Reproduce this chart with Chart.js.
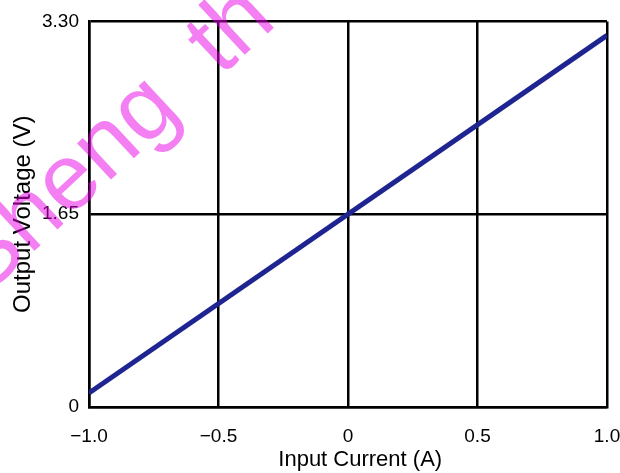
<!DOCTYPE html>
<html>
<head>
<meta charset="utf-8">
<script src="https://cdn.jsdelivr.net/npm/chart.js@4.4.1/dist/chart.umd.min.js"></script>
<style>
    html, body { margin: 0; padding: 0; background: #fff; }
    #wrap { width: 620px; height: 473px; position: relative; }
</style>
</head>
<body>
<div id="wrap"><canvas id="chart"></canvas></div>
<script>
// transfer curve: output voltage vs input current
const currents = [-1.0, 1.0];
const voltages = [0.12, 3.18];
const xTicks = [-1.0, -0.5, 0, 0.5, 1.0];
const xTickLabels = ['\u22121.0', '\u22120.5', '0', '0.5', '1.0'];
const yTicks = [0, 1.65, 3.3];
const yTickLabels = ['0', '1.65', '3.30'];

const FONT = 'Liberation Sans, Arial, sans-serif';

// pink watermark across the upper left
const watermark = {
    id: 'watermark',
    afterDraw(chart) {
        const ctx = chart.ctx;
        ctx.save();
        ctx.translate(-16, 298);
        ctx.rotate(-43 * Math.PI / 180);
        ctx.font = '94px ' + FONT;
        ctx.fillStyle = 'rgba(232, 0, 232, 0.5)';
        ctx.textBaseline = 'alphabetic';
        ctx.fillText('Sheng  th', 0, 0);
        ctx.restore();
    }
};

const ctx = document.getElementById('chart').getContext('2d');
const chart = new Chart(ctx, {
    type: 'scatter',
    data: {
        datasets: [{
            data: currents.map((c, i) => ({ x: c, y: voltages[i] })),
            showLine: true,
            borderColor: '#1f2590',
            borderWidth: 5,
            pointRadius: 0,
            fill: false
        }]
    },
    options: {
        responsive: true,
        maintainAspectRatio: false,
        animation: false,
        layout: {
            padding: { left: 0, top: 19, right: 13, bottom: 0 }
        },
        plugins: {
            legend: { display: false },
            tooltip: { enabled: false }
        },
        scales: {
            x: {
                type: 'linear',
                min: -1,
                max: 1,
                afterBuildTicks: function(scale) {
                    scale.ticks = xTicks.map(v => ({ value: v }));
                },
                afterFit: function(scale) {
                    scale.height = 66;
                    scale.paddingLeft = 0;
                    scale.paddingRight = 0;
                },
                grid: {
                    color: '#000',
                    lineWidth: 2.5,
                    drawTicks: false
                },
                border: { color: '#000', width: 2.5 },
                ticks: {
                    color: '#000',
                    padding: 18,
                    maxRotation: 0,
                    font: { family: FONT, size: 19 },
                    callback: function(value) {
                        const i = xTicks.indexOf(value);
                        return i >= 0 ? xTickLabels[i] : '';
                    }
                },
                title: {
                    display: true,
                    text: '    Input Current (A)',
                    color: '#000',
                    padding: { top: 0, bottom: 0 },
                    font: { family: FONT, size: 22 }
                }
            },
            y: {
                type: 'linear',
                min: 0,
                max: 3.3,
                afterBuildTicks: function(scale) {
                    scale.ticks = yTicks.map(v => ({ value: v }));
                },
                afterFit: function(scale) {
                    scale.width = 89;
                },
                grid: {
                    color: '#000',
                    lineWidth: 2.5,
                    drawTicks: false
                },
                border: { color: '#000', width: 2.5 },
                ticks: {
                    color: '#000',
                    padding: 10,
                    font: { family: FONT, size: 19 },
                    callback: function(value) {
                        const i = yTicks.indexOf(value);
                        return i >= 0 ? yTickLabels[i] : '';
                    }
                },
                title: {
                    display: true,
                    text: 'Output Voltage (V)',
                    color: '#000',
                    padding: { top: 9, bottom: 0 },
                    font: { family: FONT, size: 24 }
                }
            }
        }
    },
    plugins: [watermark]
});
</script>
</body>
</html>
